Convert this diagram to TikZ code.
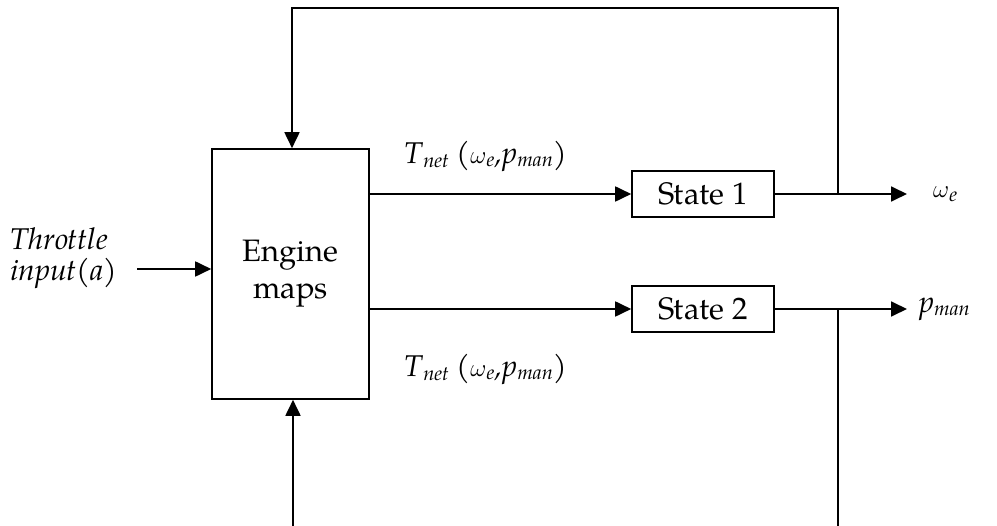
\documentclass[tikz,border=0pt]{standalone}
\usepackage{fontspec}
\setmainfont{TeX Gyre Pagella}
\usetikzlibrary{arrows.meta}
\tikzset{
  x=1pt, y=-1pt,
  blk/.style={draw, line width=1.6pt, minimum width=142pt, minimum height=46pt, inner sep=0pt, font=\fontsize{31}{34}\selectfont},
  bigblk/.style={draw, line width=1.6pt, minimum width=157pt, minimum height=250pt, inner sep=0pt, align=center, font=\fontsize{31}{37}\selectfont},
  lbl/.style={inner sep=0pt, font=\fontsize{30}{31}\selectfont\itshape},
  wire/.style={line width=1.8pt},
  flow/.style={wire, -{Triangle[length=16pt,width=15pt]}}
}
\newcommand{\sbs}[1]{\textsubscript{\fontsize{20}{20}\selectfont\itshape #1}}
\begin{document}
\begin{tikzpicture}
\useasboundingbox (0,0) rectangle (997,526);
% blocks
\node[bigblk] (eng) at (290.5,274) {Engine\\maps};
\node[blk] (s1) at (703,194) {State 1};
\node[blk] (s2) at (703,309) {State 2};
% free ends and corners
\coordinate (thr) at (137,269);
\coordinate (o1) at (907,194);
\coordinate (o2) at (907,309);
\coordinate (tap1) at (838,194);
\coordinate (tap2) at (838,309);
\coordinate (topL) at (292,8);
\coordinate (topR) at (838,8);
\coordinate (botL) at (293,526);
\coordinate (botR) at (838,526);
% labels
\node[lbl, align=left] (thrlbl) at (64,258) {Throttle\\input(a)};
\node[lbl] (t1) at (486,156) {T\sbs{net} ($\omega$\sbs{e},p\sbs{man})};
\node[lbl] (t2) at (486,369) {T\sbs{net} ($\omega$\sbs{e},p\sbs{man})};
\node[lbl, anchor=west] (w) at (933,194) {$\omega$\sbs{e}};
\node[lbl, anchor=west] (p) at (919,309) {p\sbs{man}};
% connectors
\draw[flow] (thr) -- (thr -| eng.west);
\draw[flow] (eng.east |- s1) -- (s1.west);
\draw[flow] (eng.east |- s2) -- (s2.west);
\draw[flow] (s1.east) -- (o1);
\draw[flow] (s2.east) -- (o2);
\draw[flow] (tap1) -- (topR) -- (topL) -- (topL |- eng.north);
\draw[wire] (tap2) -- (botR);
\draw[flow] (botL) -- (botL |- eng.south);
\end{tikzpicture}
\end{document}
